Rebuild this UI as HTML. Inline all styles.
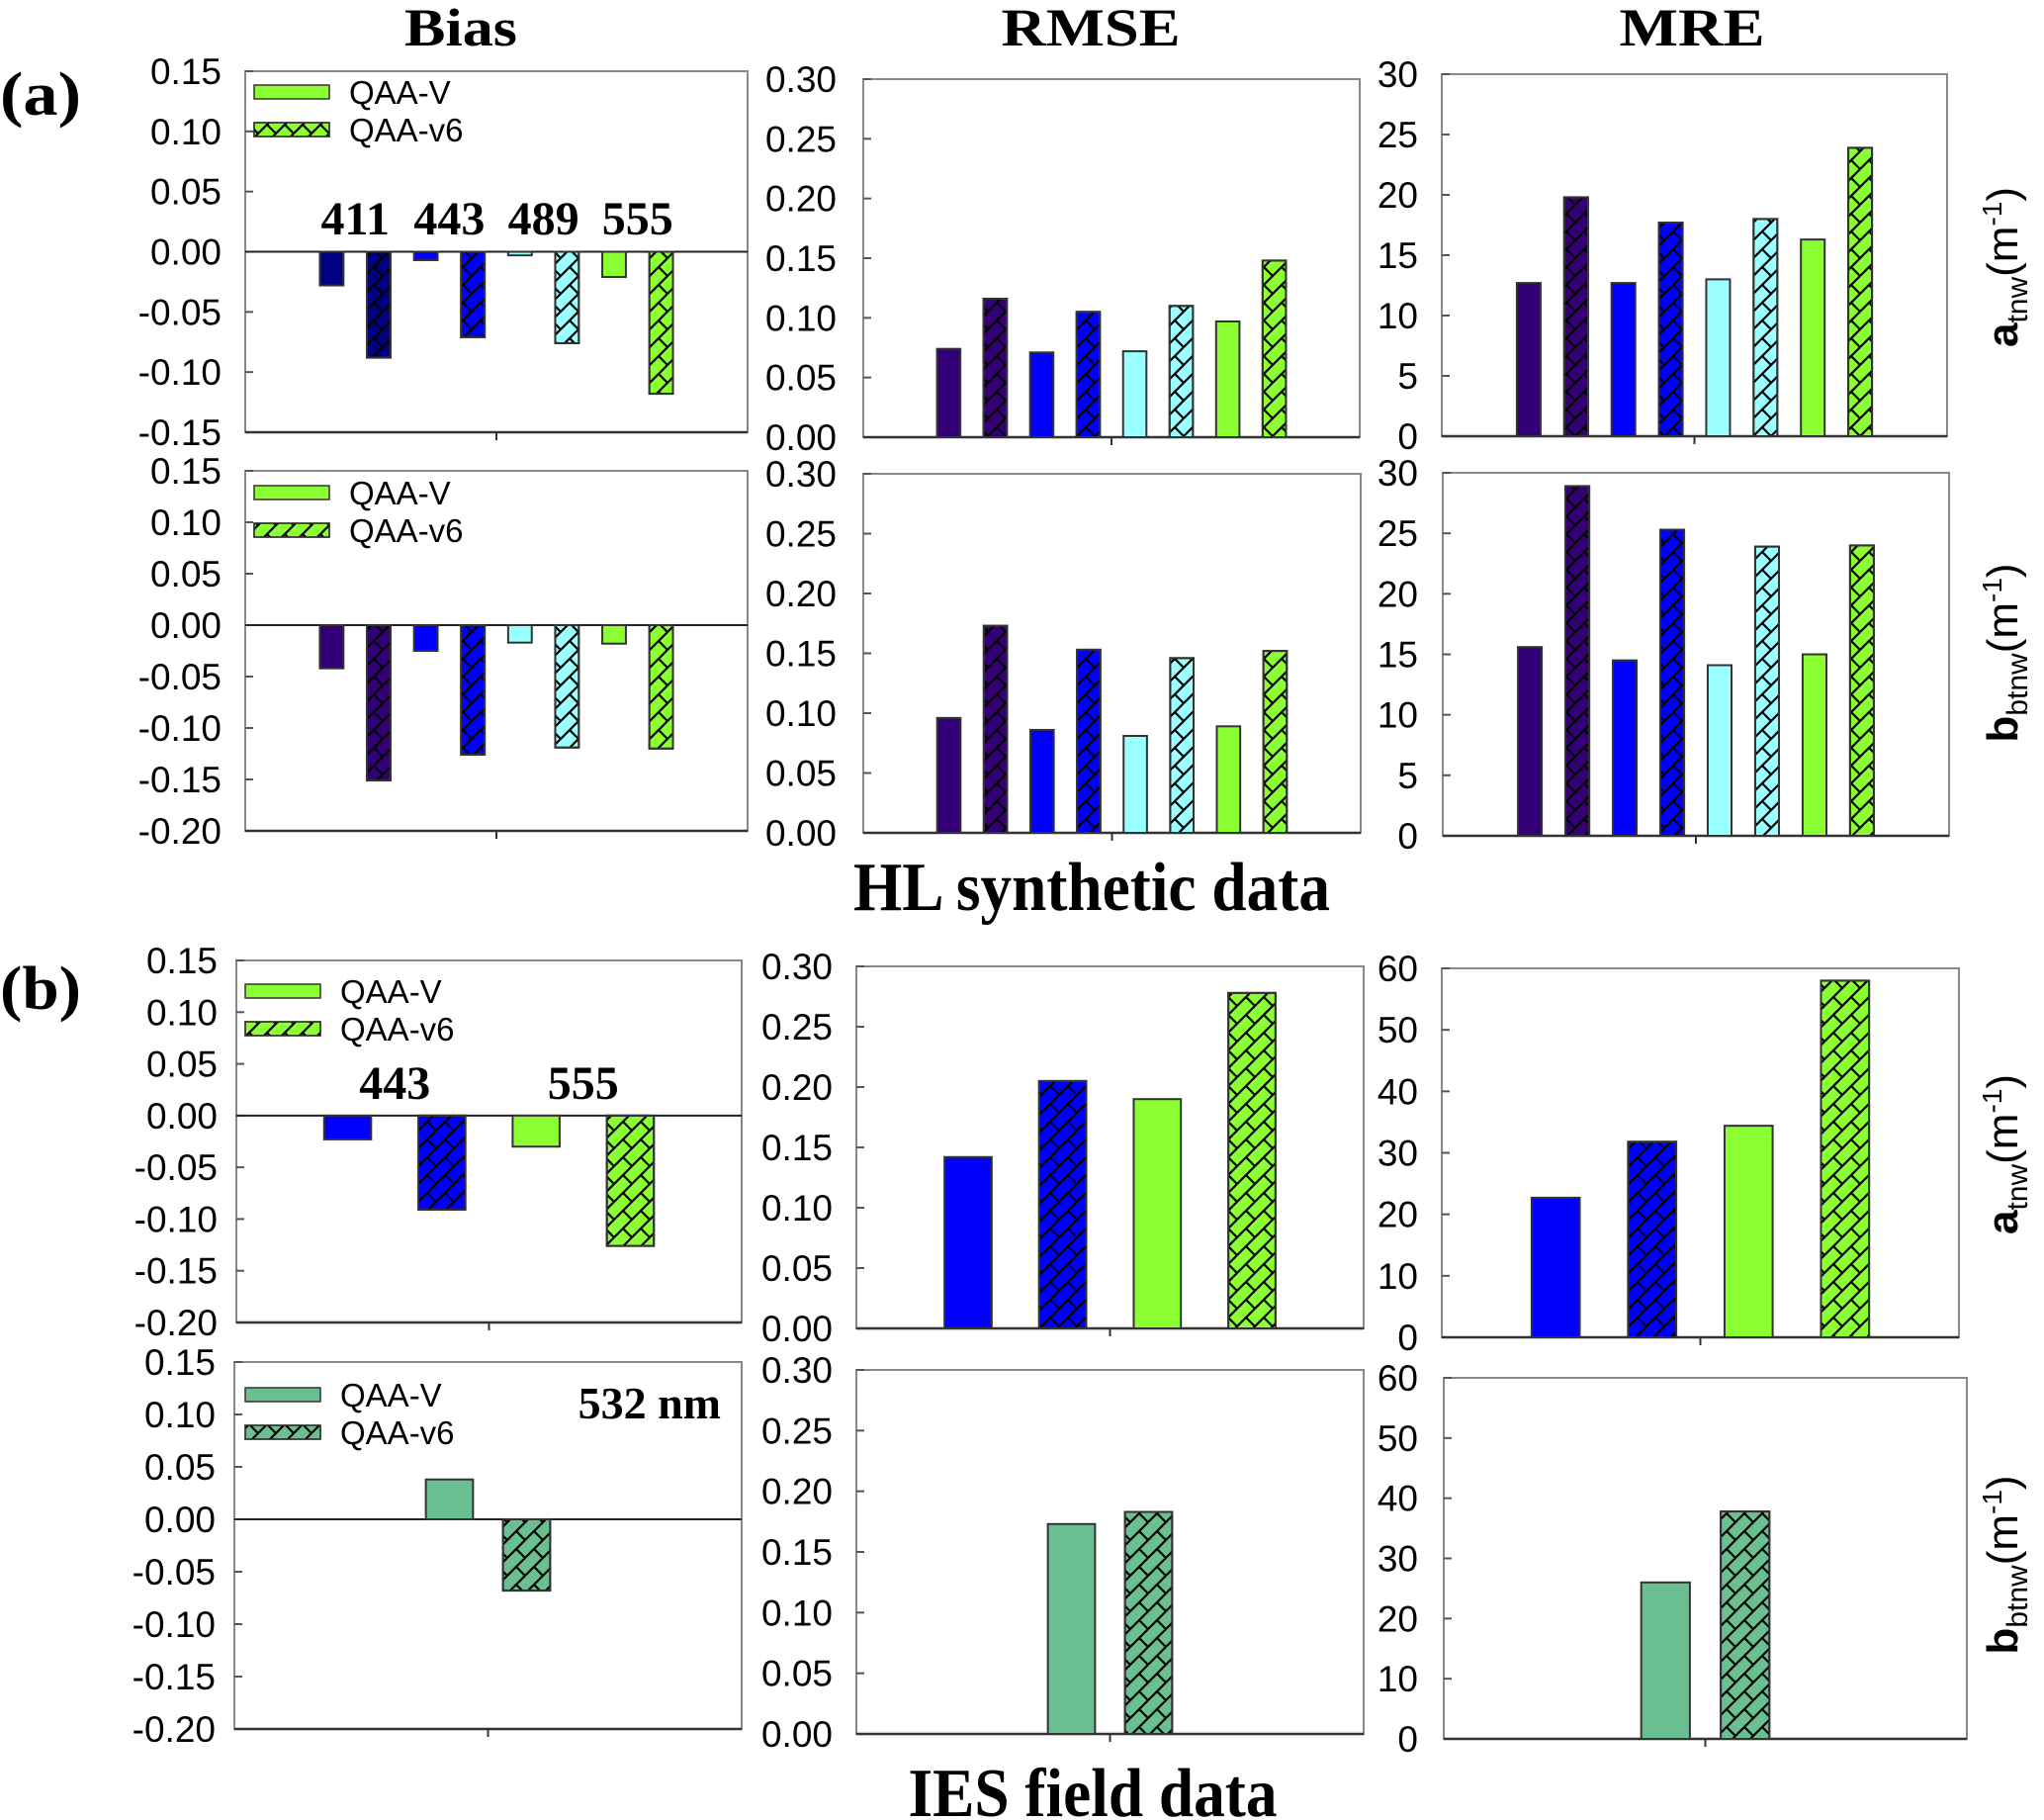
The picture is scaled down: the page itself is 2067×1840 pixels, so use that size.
<!DOCTYPE html>
<html><head><meta charset="utf-8"><style>
html,body{margin:0;padding:0;background:#fff;}
svg{display:block;}
.tk{font-family:"Liberation Sans",sans-serif;font-size:37px;fill:#000;}
.lg{font-family:"Liberation Sans",sans-serif;font-size:33px;fill:#000;}
.ttl{font-family:"Liberation Serif",serif;font-weight:bold;fill:#000;}
</style></head><body>
<svg id="fig" width="2067" height="1840" viewBox="0 0 2067 1840" xmlns="http://www.w3.org/2000/svg">
<defs>
<pattern id="hatch" patternUnits="userSpaceOnUse" width="18" height="18">
<path d="M0,18 L18,0 M-4,4 L4,-4 M14,22 L22,14" stroke="#000" stroke-width="2.2"/>
<path d="M0,0 L9,9" stroke="#000" stroke-width="2.2"/>
</pattern>
</defs>
<g id="root"></g>
</svg>
<script>
// ---- data ----
const a1BiasValues = [-0.028,-0.088,-0.007,-0.071,-0.003,-0.076,-0.021,-0.118];
const a1RmseValues = [0.074,0.116,0.071,0.105,0.072,0.110,0.097,0.148];
const a1MreValues  = [12.7,19.8,12.7,17.7,13.0,18.0,16.3,23.9];
const a2BiasValues = [-0.042,-0.151,-0.025,-0.126,-0.017,-0.119,-0.018,-0.120];
const a2RmseValues = [0.096,0.173,0.086,0.153,0.081,0.146,0.089,0.152];
const a2MreValues  = [15.6,28.9,14.5,25.3,14.1,23.9,15.0,24.0];
const b1BiasValues = [-0.023,-0.091,-0.030,-0.126];
const b1RmseValues = [0.142,0.205,0.190,0.278];
const b1MreValues  = [22.7,31.8,34.4,58.0];
const b2BiasValues = [0.038,-0.068];
const b2RmseValues = [0.173,0.183];
const b2MreValues  = [26.0,37.8];
const hlWavelengths = ["411","443","489","555"];
const iesWavelengths = ["443","555"];
const biasTicksA1 = ["0.15","0.10","0.05","0.00","-0.05","-0.10","-0.15"];
const biasTicks = ["0.15","0.10","0.05","0.00","-0.05","-0.10","-0.15","-0.20"];
const rmseTicks = ["0.30","0.25","0.20","0.15","0.10","0.05","0.00"];
const mreTicksA = ["30","25","20","15","10","5","0"];
const mreTicksB = ["60","50","40","30","20","10","0"];
const seriesNames = ["QAA-V","QAA-v6"];

const NAVY="#000080",PUR="#330077",BLU="#0000ff",CYA="#99ffff",GRN="#8cff33",TEAL="#6abf90";
const colA1Bias=[NAVY,NAVY,BLU,BLU,CYA,CYA,GRN,GRN];
const colA=[PUR,PUR,BLU,BLU,CYA,CYA,GRN,GRN];
const colB1=[BLU,BLU,GRN,GRN];
const colB2=[TEAL,TEAL];

const NS="http://www.w3.org/2000/svg";
const root=document.getElementById('root');
function mk(tag,attrs,parent){const e=document.createElementNS(NS,tag);for(const k in attrs)e.setAttribute(k,attrs[k]);(parent||root).appendChild(e);return e;}

function panel(name,box,ticks,vals,cols,pitchFrac,bwFrac,labelRight){
  const g=mk('g',{});
  
  
  const [x0,y0,x1,y1]=box;
  const tv=ticks.map(Number);
  const vmax=tv[0],vmin=tv[tv.length-1];
  const y=v=>y0+(vmax-v)/(vmax-vmin)*(y1-y0);
  const frame=mk('rect',{x:x0,y:y0,width:x1-x0,height:y1-y0,fill:'none',stroke:'#888','stroke-width':2},g);
  
  
  ticks.forEach((t,i)=>{
    const yy=y(tv[i]);
    mk('line',{x1:x0,x2:x0+8,y1:yy,y2:yy,stroke:'#555','stroke-width':2},g);
    const tx=mk('text',{x:labelRight,y:yy+13,'text-anchor':'end',class:'tk'},g);
    tx.textContent=t;
    
    
  });
  const yz=y(0);
  const ax=mk('line',{x1:x0,x2:x1,y1:yz,y2:yz,stroke:'#222','stroke-width':2},g);
  
  
  mk('line',{x1:x0,x2:x1,y1:y1,y2:y1,stroke:'#333','stroke-width':2.5},g);
  const cx=(x0+x1)/2;
  mk('line',{x1:cx,x2:cx,y1:y1,y2:y1+8,stroke:'#333','stroke-width':2},g);
  const pitch=(x1-x0)*pitchFrac, bw=(x1-x0)*bwFrac;
  const n=vals.length;
  vals.forEach((v,i)=>{
    const bc=cx+(i-(n-1)/2)*pitch;
    const yt=Math.min(y(v),yz), h=Math.abs(y(v)-yz);
    const r=mk('rect',{x:bc-bw/2,y:yt,width:bw,height:h,fill:cols[i],stroke:'#333','stroke-width':2},g);
    
    
    if(i%2===1){mk('rect',{x:bc-bw/2,y:yt,width:bw,height:h,fill:'url(#hatch)',stroke:'#333','stroke-width':2},g);}
  });
  return {y,cx,pitch};
}

function legend(x,yc,col){
  for(let i=0;i<2;i++){
    const yy=yc+i*38;
    const s=mk('rect',{x:x,y:yy-7,width:76,height:14,fill:col,stroke:'#333','stroke-width':1.5});
    
    
    if(i===1)mk('rect',{x:x,y:yy-7,width:76,height:14,fill:'url(#hatch)',stroke:'#333','stroke-width':1.5});
    const t=mk('text',{x:x+96,y:yy+12,class:'lg'});
    t.textContent=seriesNames[i];
    
    
  }
}
function txt(s,x,y,size,anchor,name,len){
  const t=mk('text',{x:x,y:y,'font-size':size,'text-anchor':anchor||'middle',class:'ttl'});
  if(len){t.setAttribute('textLength',len);t.setAttribute('lengthAdjust','spacingAndGlyphs');}
  t.textContent=s;
  
  
  return t;
}
function sideLabel(letter,sub,x,y,name){
  const t=mk('text',{x:0,y:0,transform:`translate(${x},${y}) rotate(-90)`,'text-anchor':'middle','font-family':'Liberation Sans, sans-serif','font-size':44});
  t.innerHTML=`<tspan font-weight="bold">${letter}</tspan><tspan font-size="30" dy="10">${sub}</tspan><tspan dy="-10">(m</tspan><tspan font-size="28" dy="-16">-1</tspan><tspan dy="16">)</tspan>`;
  
  
}

// titles
txt("Bias",466,46,54,'middle','bias-column-title',114);
txt("RMSE",1103,46,54,'middle','rmse-column-title',181);
txt("MRE",1711,46,54,'middle','mre-column-title',147);
txt("(a)",0,116,62,'start','panel-a-label',82);
txt("(b)",0,1020,62,'start','panel-b-label',82);
txt("HL synthetic data",1104,920,70,'middle','hl-synthetic-data-title',482);
txt("IES field data",1105,1836,70,'middle','ies-field-data-title',373);

// row a1
const pa1=panel('a1-bias',[248,72,756,437],biasTicksA1,a1BiasValues,colA1Bias,0.0937,0.047,224);
panel('a1-rmse',[873,80,1375,442],rmseTicks,a1RmseValues,colA,0.0937,0.047,846);
panel('a1-mre',[1458,75,1969,441],mreTicksA,a1MreValues,colA,0.0937,0.047,1434);
// row a2
panel('a2-bias',[248,476,756,840],biasTicks,a2BiasValues,colA,0.0937,0.047,224);
panel('a2-rmse',[873,479,1376,842],rmseTicks,a2RmseValues,colA,0.0937,0.047,846);
panel('a2-mre',[1459,478,1971,845],mreTicksA,a2MreValues,colA,0.0937,0.047,1434);
// row b1
const pb1=panel('b1-bias',[239,971,750,1337],biasTicks,b1BiasValues,colB1,0.1865,0.093,220);
panel('b1-rmse',[866,977,1379,1343],rmseTicks,b1RmseValues,colB1,0.1865,0.093,842);
panel('b1-mre',[1458,979,1981,1352],mreTicksB,b1MreValues,colB1,0.1865,0.093,1434);
// row b2
panel('b2-bias',[237,1377,750,1748],biasTicks,b2BiasValues,colB2,0.152,0.093,218);
panel('b2-rmse',[866,1385,1379,1753],rmseTicks,b2RmseValues,colB2,0.152,0.093,842);
panel('b2-mre',[1460,1393,1989,1758],mreTicksB,b2MreValues,colB2,0.152,0.093,1434);

// wavelength labels
hlWavelengths.forEach((w,i)=>{
  const x=pa1.cx+((2*i+0.5)-3.5)*pa1.pitch;
  txt(w,x,237,48,'middle','wavelength-label-'+w);
});
iesWavelengths.forEach((w,i)=>{
  const x=pb1.cx+((2*i+0.5)-1.5)*pb1.pitch;
  txt(w,x,1111,48,'middle','wavelength-label-'+w);
});
txt("532 nm",729,1434,46,'end','wavelength-label-532');

legend(257,93,GRN);
legend(257,498,GRN);
legend(248,1002,GRN);
legend(248,1410,TEAL);

sideLabel('a','tnw',2040,270,'a-tnw-axis-label');
sideLabel('b','btnw',2040,660,'b-btnw-axis-label');
sideLabel('a','tnw',2040,1167,'a-tnw-axis-label-b');
sideLabel('b','btnw',2040,1582,'b-btnw-axis-label-b');
</script>
</body></html>
